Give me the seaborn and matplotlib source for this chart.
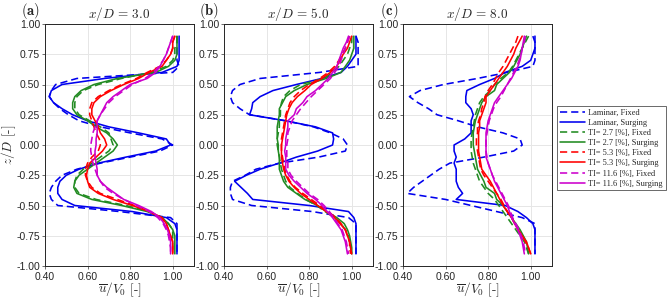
import numpy as np
import matplotlib
matplotlib.use("Agg")
import matplotlib.pyplot as plt
import seaborn as sns

# z/D positions (top to bottom)
z = [0.9, 0.85, 0.8, 0.75, 0.7, 0.65, 0.6, 0.55, 0.5, 0.45, 0.4, 0.35, 0.3, 0.25, 0.2, 0.15, 0.1, 0.05, 0.0,
     -0.05, -0.1, -0.15, -0.2, -0.25, -0.3, -0.35, -0.4, -0.45, -0.5, -0.55, -0.6, -0.65, -0.7, -0.75, -0.8, -0.85, -0.9]

panels = ["3.0", "5.0", "8.0"]
panel_tags = ["(a)", "(b)", "(c)"]

series_names = ["Laminar, Fixed", "Laminar, Surging",
                "TI= 2.7 [%], Fixed", "TI= 2.7 [%], Surging",
                "TI= 5.3 [%], Fixed", "TI= 5.3 [%], Surging",
                "TI= 11.6 [%], Fixed", "TI= 11.6 [%], Surging"]
series_colors = ["#0000ee", "#0000ee", "#228b22", "#228b22", "#ff0000", "#ff0000", "#cc00cc", "#cc00cc"]
series_dashed = [True, False, True, False, True, False, True, False]

# x/D = 3.0
a_lam_fix = [1.02, 1.02, 1.02, 1.02, 1.02, 1.03, 1.00, 0.55, 0.45, 0.43, 0.42, 0.44, 0.47, 0.51, 0.56, 0.66, 0.80, 0.95, 1.00,
             0.94, 0.80, 0.66, 0.55, 0.48, 0.45, 0.43, 0.42, 0.43, 0.46, 0.75, 0.99, 1.02, 1.02, 1.02, 1.02, 1.02, 1.02]
a_lam_surg = [1.03, 1.03, 1.03, 1.03, 1.03, 1.02, 0.95, 0.68, 0.48, 0.43, 0.42, 0.44, 0.48, 0.53, 0.60, 0.70, 0.84, 0.97, 0.99,
              0.92, 0.78, 0.65, 0.56, 0.50, 0.47, 0.46, 0.46, 0.48, 0.54, 0.81, 0.97, 1.01, 1.02, 1.02, 1.02, 1.02, 1.02]
a_ti27_fix = [1.02, 1.02, 1.01, 1.01, 1.00, 0.97, 0.90, 0.76, 0.65, 0.58, 0.55, 0.54, 0.54, 0.56, 0.61, 0.66, 0.70, 0.71, 0.72,
              0.70, 0.66, 0.62, 0.58, 0.55, 0.54, 0.54, 0.56, 0.64, 0.78, 0.89, 0.95, 0.98, 1.00, 1.00, 1.00, 1.00, 1.00]
a_ti27_surg = [1.02, 1.02, 1.02, 1.02, 1.01, 0.98, 0.92, 0.74, 0.63, 0.57, 0.54, 0.53, 0.53, 0.55, 0.60, 0.64, 0.69, 0.72, 0.74,
               0.72, 0.68, 0.64, 0.60, 0.56, 0.54, 0.535, 0.55, 0.62, 0.76, 0.88, 0.95, 0.98, 1.00, 1.01, 1.01, 1.01, 1.01]
a_ti53_fix = [1.01, 1.00, 1.00, 0.99, 0.97, 0.94, 0.88, 0.83, 0.76, 0.70, 0.65, 0.62, 0.61, 0.61, 0.62, 0.63, 0.64, 0.655, 0.66,
              0.65, 0.62, 0.60, 0.59, 0.59, 0.60, 0.62, 0.66, 0.74, 0.82, 0.89, 0.94, 0.97, 0.98, 0.99, 1.00, 1.00, 1.00]
a_ti53_surg = [1.01, 1.00, 1.00, 0.99, 0.97, 0.95, 0.89, 0.84, 0.77, 0.71, 0.66, 0.63, 0.62, 0.62, 0.635, 0.65, 0.66, 0.68, 0.69,
               0.67, 0.64, 0.61, 0.60, 0.595, 0.60, 0.61, 0.65, 0.72, 0.81, 0.89, 0.95, 0.97, 0.98, 0.99, 1.00, 1.00, 1.00]
a_ti116_fix = [1.00, 0.99, 0.98, 0.97, 0.955, 0.935, 0.91, 0.87, 0.81, 0.77, 0.73, 0.70, 0.68, 0.66, 0.645, 0.635, 0.625, 0.62, 0.615,
               0.615, 0.62, 0.625, 0.635, 0.645, 0.66, 0.68, 0.72, 0.77, 0.83, 0.89, 0.93, 0.955, 0.97, 0.98, 0.985, 0.99, 0.99]
a_ti116_surg = [1.00, 0.99, 0.98, 0.97, 0.955, 0.94, 0.92, 0.88, 0.80, 0.76, 0.72, 0.69, 0.675, 0.66, 0.645, 0.645, 0.645, 0.64, 0.64,
                0.635, 0.635, 0.64, 0.645, 0.645, 0.66, 0.69, 0.73, 0.77, 0.84, 0.90, 0.94, 0.96, 0.975, 0.985, 0.99, 0.99, 0.99]

# x/D = 5.0
b_lam_fix = [1.02, 1.03, 1.03, 1.03, 1.03, 1.03, 0.85, 0.57, 0.475, 0.44, 0.43, 0.44, 0.475, 0.52, 0.69, 0.82, 0.90, 0.96, 0.98,
             0.97, 0.845, 0.66, 0.55, 0.50, 0.44, 0.43, 0.43, 0.44, 0.53, 0.815, 0.985, 1.02, 1.02, 1.02, 1.02, 1.02, 1.02]
b_lam_surg = [1.02, 1.02, 1.02, 1.02, 1.00, 0.98, 0.95, 0.86, 0.74, 0.63, 0.57, 0.535, 0.53, 0.52, 0.69, 0.83, 0.91, 0.915, 0.91,
              0.84, 0.74, 0.66, 0.57, 0.505, 0.45, 0.48, 0.51, 0.535, 0.80, 0.985, 1.01, 1.02, 1.02, 1.02, 1.02, 1.02, 1.02]
b_ti27_fix = [1.00, 1.00, 0.99, 0.98, 0.96, 0.94, 0.91, 0.87, 0.76, 0.71, 0.68, 0.67, 0.665, 0.665, 0.66, 0.66, 0.655, 0.65, 0.65,
              0.655, 0.66, 0.665, 0.67, 0.68, 0.69, 0.71, 0.745, 0.785, 0.835, 0.875, 0.92, 0.95, 0.97, 0.985, 0.99, 0.995, 1.00]
b_ti27_surg = [1.01, 1.01, 1.01, 1.00, 0.99, 0.97, 0.95, 0.88, 0.79, 0.73, 0.69, 0.675, 0.66, 0.66, 0.655, 0.65, 0.65, 0.65, 0.655,
               0.655, 0.66, 0.66, 0.66, 0.67, 0.68, 0.70, 0.74, 0.78, 0.84, 0.88, 0.93, 0.965, 0.98, 0.99, 0.995, 1.00, 1.00]
b_ti53_fix = [0.99, 0.98, 0.97, 0.955, 0.94, 0.92, 0.89, 0.85, 0.80, 0.76, 0.73, 0.71, 0.70, 0.69, 0.685, 0.68, 0.675, 0.67, 0.67,
              0.67, 0.675, 0.68, 0.685, 0.695, 0.71, 0.735, 0.77, 0.81, 0.85, 0.89, 0.925, 0.95, 0.97, 0.98, 0.99, 0.99, 0.995]
b_ti53_surg = [1.00, 0.99, 0.98, 0.96, 0.945, 0.93, 0.90, 0.86, 0.81, 0.78, 0.745, 0.72, 0.705, 0.695, 0.69, 0.685, 0.68, 0.675, 0.67,
               0.67, 0.67, 0.675, 0.68, 0.69, 0.705, 0.73, 0.76, 0.80, 0.84, 0.88, 0.92, 0.945, 0.97, 0.98, 0.99, 0.995, 1.00]
b_ti116_fix = [0.99, 0.98, 0.97, 0.96, 0.95, 0.94, 0.92, 0.90, 0.87, 0.84, 0.81, 0.785, 0.76, 0.74, 0.72, 0.71, 0.70, 0.70, 0.695,
               0.695, 0.695, 0.70, 0.70, 0.715, 0.74, 0.77, 0.80, 0.84, 0.87, 0.895, 0.915, 0.935, 0.955, 0.965, 0.975, 0.98, 0.985]
b_ti116_surg = [0.985, 0.975, 0.96, 0.95, 0.94, 0.93, 0.91, 0.89, 0.86, 0.83, 0.79, 0.77, 0.74, 0.73, 0.70, 0.70, 0.695, 0.69, 0.69,
                0.685, 0.69, 0.69, 0.69, 0.705, 0.73, 0.76, 0.79, 0.83, 0.86, 0.885, 0.91, 0.93, 0.95, 0.96, 0.97, 0.975, 0.98]

# x/D = 8.0
c_lam_fix = [1.01, 1.02, 1.02, 1.02, 1.02, 1.01, 0.89, 0.75, 0.59, 0.48, 0.43, 0.47, 0.52, 0.56, 0.66, 0.75, 0.87, 0.95, 0.96,
             0.92, 0.78, 0.62, 0.57, 0.53, 0.49, 0.45, 0.42, 0.60, 0.72, 0.84, 0.96, 1.02, 1.02, 1.02, 1.02, 1.02, 1.02]
c_lam_surg = [1.02, 1.02, 1.02, 1.01, 1.00, 0.96, 0.88, 0.83, 0.76, 0.70, 0.695, 0.695, 0.72, 0.73, 0.72, 0.72, 0.72, 0.69, 0.64,
              0.64, 0.65, 0.64, 0.65, 0.65, 0.65, 0.66, 0.68, 0.65, 0.88, 0.94, 0.98, 1.01, 1.02, 1.02, 1.02, 1.02, 1.02]
c_ti27_fix = [0.99, 0.975, 0.96, 0.945, 0.93, 0.915, 0.895, 0.86, 0.83, 0.81, 0.78, 0.76, 0.75, 0.74, 0.735, 0.73, 0.725, 0.72, 0.72,
              0.72, 0.725, 0.73, 0.74, 0.75, 0.76, 0.78, 0.80, 0.83, 0.85, 0.87, 0.89, 0.91, 0.93, 0.95, 0.97, 0.98, 0.99]
c_ti27_surg = [0.98, 0.97, 0.96, 0.95, 0.935, 0.92, 0.90, 0.87, 0.84, 0.83, 0.79, 0.77, 0.76, 0.75, 0.74, 0.735, 0.73, 0.73, 0.73,
               0.735, 0.74, 0.745, 0.75, 0.765, 0.78, 0.79, 0.83, 0.84, 0.87, 0.89, 0.91, 0.93, 0.95, 0.965, 0.98, 0.985, 0.99]
c_ti53_fix = [0.94, 0.93, 0.915, 0.90, 0.885, 0.87, 0.85, 0.835, 0.82, 0.80, 0.785, 0.78, 0.77, 0.765, 0.755, 0.75, 0.75, 0.745, 0.745,
              0.75, 0.755, 0.76, 0.765, 0.78, 0.80, 0.82, 0.84, 0.86, 0.875, 0.89, 0.91, 0.925, 0.94, 0.96, 0.975, 0.99, 1.00]
c_ti53_surg = [0.96, 0.945, 0.93, 0.92, 0.905, 0.89, 0.87, 0.85, 0.83, 0.81, 0.79, 0.79, 0.78, 0.77, 0.76, 0.76, 0.755, 0.755, 0.755,
               0.755, 0.76, 0.765, 0.77, 0.79, 0.81, 0.825, 0.84, 0.855, 0.87, 0.89, 0.91, 0.925, 0.94, 0.96, 0.98, 0.99, 1.00]
c_ti116_fix = [0.975, 0.97, 0.96, 0.955, 0.945, 0.935, 0.92, 0.905, 0.89, 0.875, 0.86, 0.84, 0.825, 0.815, 0.805, 0.80, 0.795, 0.79, 0.79,
               0.79, 0.795, 0.80, 0.81, 0.82, 0.835, 0.85, 0.865, 0.88, 0.895, 0.905, 0.915, 0.93, 0.945, 0.955, 0.965, 0.97, 0.975]
c_ti116_surg = [0.97, 0.965, 0.96, 0.955, 0.95, 0.94, 0.925, 0.91, 0.89, 0.87, 0.85, 0.83, 0.82, 0.81, 0.80, 0.795, 0.79, 0.79, 0.79,
                0.79, 0.79, 0.80, 0.81, 0.82, 0.83, 0.845, 0.86, 0.875, 0.89, 0.90, 0.91, 0.925, 0.94, 0.95, 0.96, 0.965, 0.97]

profiles = [
    [a_lam_fix, a_lam_surg, a_ti27_fix, a_ti27_surg, a_ti53_fix, a_ti53_surg, a_ti116_fix, a_ti116_surg],
    [b_lam_fix, b_lam_surg, b_ti27_fix, b_ti27_surg, b_ti53_fix, b_ti53_surg, b_ti116_fix, b_ti116_surg],
    [c_lam_fix, c_lam_surg, c_ti27_fix, c_ti27_surg, c_ti53_fix, c_ti53_surg, c_ti116_fix, c_ti116_surg],
]

x_ticks = [0.4, 0.6, 0.8, 1.0]
y_ticks = [-1.0, -0.75, -0.5, -0.25, 0.0, 0.25, 0.5, 0.75, 1.0]

sns.set_style("whitegrid")
plt.rcParams['font.family'] = ['Liberation Sans', 'DejaVu Sans']
plt.rcParams['mathtext.fontset'] = 'cm'
plt.rcParams['axes.unicode_minus'] = False

fig = plt.figure(figsize=(6.7, 2.98), dpi=100)
W, H = 670.0, 298.0
lefts = [45, 224, 403]

for i in range(3):
    ax = fig.add_axes([lefts[i] / W, 1 - 266 / H, 149 / W, 242 / H])
    for k in range(8):
        sns.lineplot(x=profiles[i][k], y=z, ax=ax, sort=False, estimator=None,
                     color=series_colors[k], lw=1.15, label=series_names[k],
                     linestyle="--" if series_dashed[k] else "-")
        if series_dashed[k]:
            ax.lines[-1].set_dashes((4.5, 2.5))
    ax.set_xlim(0.4, 1.1)
    ax.set_ylim(-1.0, 1.0)
    ax.set_xticks(x_ticks)
    ax.set_yticks(y_ticks)
    ax.set_xticklabels(["%.2f" % v for v in x_ticks])
    ax.set_yticklabels(["%.2f" % v for v in y_ticks])
    ax.tick_params(labelsize=7.5, labelcolor="#262626", color="#555555", length=2, width=0.6,
                   direction="out", left=True, bottom=True)
    ax.tick_params(axis="x", pad=2)
    ax.tick_params(axis="y", pad=1.5)
    ax.grid(color="#e6e6e6", lw=0.7)
    for s in ax.spines.values():
        s.set_color("#262626")
        s.set_linewidth(0.7)
    ax.set_title(r"$x/D\,=\,%s$" % panels[i], fontsize=9.5, pad=4)
    ax.set_xlabel(r"$\overline{u}/V_0$ [-]", fontsize=9.5, labelpad=-1, family="cmr10")
    if i == 0:
        ax.set_ylabel(r"$z/D$ [-]", fontsize=9.5, labelpad=-1, family="cmr10")
    else:
        ax.set_ylabel("")
    fig.text((lefts[i] - 5) / W, 1 - 1 / H, r"$\mathbf{%s}$" % panel_tags[i],
             fontsize=10.5, ha="right", va="top")
    handles, labels = ax.get_legend_handles_labels()
    ax.get_legend().remove()

leg = fig.legend(handles, labels, loc="upper left", bbox_to_anchor=(557 / W, 1 - 106 / H),
                 prop={"family": "Liberation Serif", "size": 6}, frameon=True, fancybox=False,
                 handlelength=3.0, handletextpad=0.4, borderpad=0.35, labelspacing=0.25,
                 borderaxespad=0)
leg.get_frame().set_edgecolor("#262626")
leg.get_frame().set_linewidth(0.6)

fig.savefig("out.png", dpi=100, facecolor="white")
